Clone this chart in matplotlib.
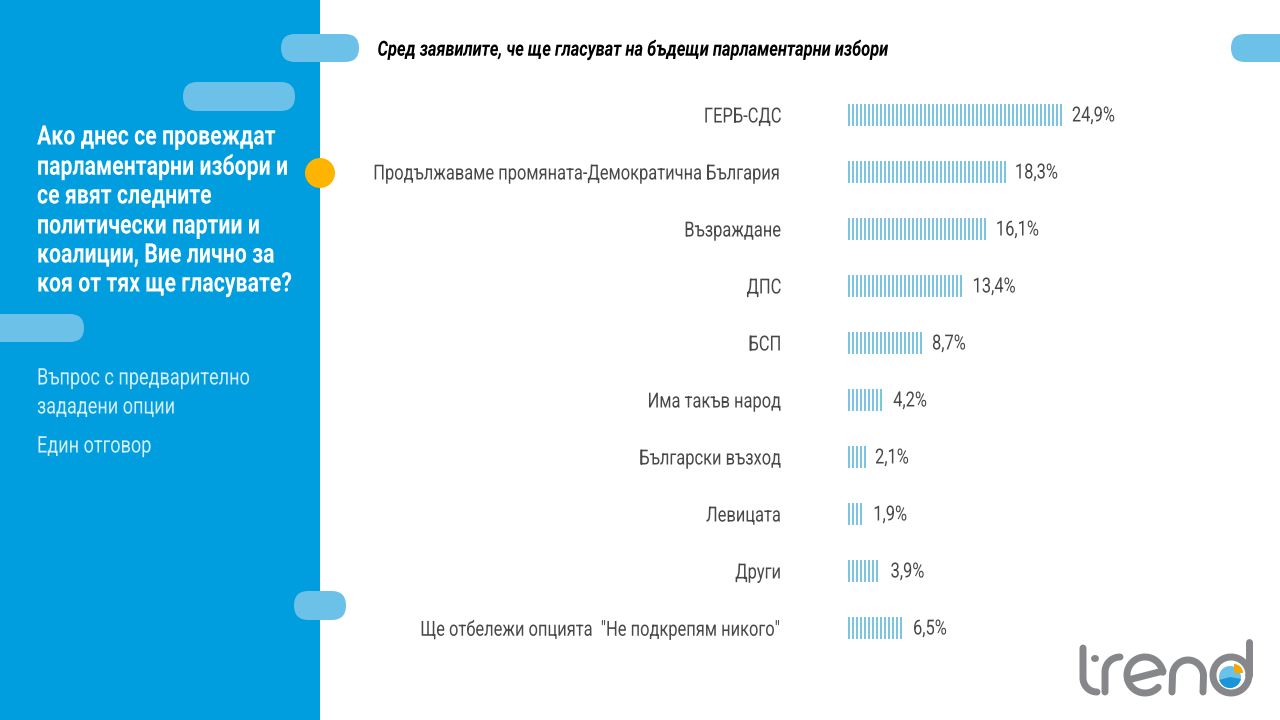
import logging
import numpy as np
from matplotlib import pyplot as plt
from matplotlib import patches as patches
from matplotlib import patheffects
from matplotlib.transforms import Affine2D

logging.getLogger("matplotlib.font_manager").setLevel(logging.ERROR)

categories = ["ГЕРБ-СДС", "Продължаваме промяната-Демократична България", "Възраждане", "ДПС", "БСП",
              "Има такъв народ", "Български възход", "Левицата", "Други",
              "Ще отбележи опцията  \"Не подкрепям никого\""]
values = [24.9, 18.3, 16.1, 13.4, 8.7, 4.2, 2.1, 1.9, 3.9, 6.5]
value_labels = ["24,9%", "18,3%", "16,1%", "13,4%", "8,7%", "4,2%", "2,1%", "1,9%", "3,9%", "6,5%"]
subtitle = "Сред заявилите, че ще гласуват на бъдещи парламентарни избори"
question = ["Ако днес се провеждат", "парламентарни избори и", "се явят следните",
            "политически партии и", "коалиции, Вие лично за", "коя от тях ще гласувате?"]
notes = ["Въпрос с предварително", "зададени опции", "Един отговор"]

BLUE = "#009ddf"
PILL = "#6cc1e9"
STRIPE = "#7cc5e2"
GREY = "#484848"
LOGO = "#85878a"
SQUEEZE = 0.79

plt.rcParams["font.family"] = ["Roboto", "DejaVu Sans"]


# no condensed font here, so squeeze Roboto sideways when it is drawn
class Condense(patheffects.AbstractPathEffect):
    def __init__(self, right=False):
        super().__init__()
        self.right = right

    def draw_path(self, renderer, gc, tpath, affine, rgbFace=None):
        x0 = tpath.get_extents().x1 if self.right else 0
        squeeze = Affine2D().translate(-x0, 0).scale(SQUEEZE, 1).translate(x0, 0)
        renderer.draw_path(gc, tpath, squeeze + affine, rgbFace)


def condense(txt, right=False):
    txt.set_path_effects([Condense(right)])
    return txt


fig = plt.figure(figsize=(12.8, 7.2), dpi=100)

# background layer in pixel coordinates
bg = fig.add_axes([0, 0, 1, 1])
bg.set_xlim(0, 1280)
bg.set_ylim(720, 0)
bg.axis("off")
bg.add_patch(patches.Rectangle((0, 0), 320, 720, color=BLUE, lw=0))
for x, y, w, h in [(281, 34, 78, 28), (183, 82, 112, 29), (-30, 314, 114, 28), (294, 591, 52, 29), (1231, 34, 90, 28)]:
    bg.add_patch(patches.FancyBboxPatch((x + h/2, y + h/2), w - h, 0.01, boxstyle=f"round,pad={h/2}", color=PILL, lw=0))
bg.add_patch(patches.Circle((320, 173), 15, color="#ffb400", lw=0))

condense(bg.text(377.5, 50, subtitle, fontsize=15, fontweight="bold", fontstyle="italic", color="black", va="center"))
for y, line in zip([137, 167, 196, 226, 255, 284], question):
    condense(bg.text(37, y, line, fontsize=19.4, fontweight="bold", color="white", va="center"))
for y, line in zip([378, 407, 446], notes):
    condense(bg.text(37, y, line, fontsize=16.5, color="#d5eef9", va="center"))


# logo
def stroke(xs, ys, color=LOGO, lw=5):
    bg.plot(xs, ys, color=color, lw=lw, solid_capstyle="round", solid_joinstyle="round")


t = np.linspace(0, np.pi/2, 20)
stroke(np.r_[1083, 1083 + 14*(1-np.cos(t))], np.r_[648, 678 + 14*np.sin(t)])
stroke([1094, 1095], [658, 658])
stroke(np.r_[1105, 1105 + 15*(1-np.cos(t))], np.r_[692, 672 - 15*np.sin(t)])
a = np.linspace(0.15, 2*np.pi - 0.75, 60)
stroke(1145 + 18*np.cos(a), 675 - 18*np.sin(a))
stroke([1128, 1163], [680, 671])
b = np.linspace(np.pi, 0, 40)
stroke(np.r_[1172, 1188 + 15.5*np.cos(b), 1203], np.r_[692, 676 - 16*np.sin(b), 692])
c = np.linspace(0, 2*np.pi, 80)
stroke(1231 + 18*np.cos(c), 675 - 18*np.sin(c))
stroke([1248.5, 1248.5], [642, 675])
bg.add_patch(patches.Circle((1231, 676), 14.5, color="white", lw=0))
bg.add_patch(patches.Circle((1230, 677), 11, color="#6cc1e9", lw=0))
bg.add_patch(patches.Wedge((1230, 677), 11, 10, 165, color="#1b95d8", lw=0))
bg.add_patch(patches.Wedge((1234, 673), 9, -90, 0, color="#f5a800", lw=0))

# chart, one stripe every 4 px
px_per_pct = 215 / 24.9
ax = fig.add_axes([848/1280, 1 - 656.5/720, 400/1280, 570/720])
ax.patch.set_alpha(0)
ax.set_xlim(0, 400/px_per_pct)
ax.set_ylim(9.5, -0.5)
step = 4 / px_per_pct
for i, v in enumerate(values):
    left = np.arange(0, v - step/2, step)
    ax.barh(np.full(len(left), i), np.full(len(left), step/2), left=left, height=22/57, align="center",
            color=STRIPE, lw=0)
    condense(ax.annotate(value_labels[i], (v, i), xytext=(6.4, -0.7), textcoords="offset points",
                         va="center", ha="left", fontsize=15, color=GREY))
ax.set_yticks(range(len(categories)))
ax.set_yticklabels(categories, fontsize=15, color=GREY)
for lab in ax.get_yticklabels():
    condense(lab, right=True)
ax.tick_params(axis="y", length=0, pad=47.8)
ax.set_xticks([])
for s in ax.spines.values():
    s.set_visible(False)

plt.savefig("out.png", dpi=100)
